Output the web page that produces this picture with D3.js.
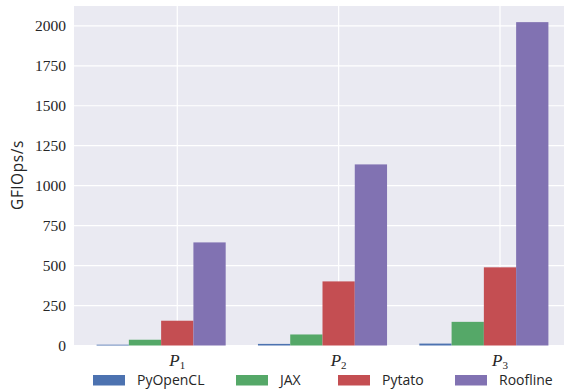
<!DOCTYPE html>
<html><head><meta charset="utf-8">
<script src="https://cdn.jsdelivr.net/npm/d3@7"></script>
<style>body{margin:0;background:#fff}</style>
</head><body>
<svg id="c" width="564" height="389"></svg>
<script>
const categories = ["1", "2", "3"];
const seriesNames = ["PyOpenCL", "JAX", "Pytato", "Roofline"];
const pyopencl = [5, 10, 12];
const jax = [36, 69, 148];
const pytato = [155, 401, 489];
const roofline = [645, 1133, 2023];
const yTicks = [0, 250, 500, 750, 1000, 1250, 1500, 1750, 2000];
const colors = ["#4C72B0", "#55A868", "#C44E52", "#8172B2"];
const series = [pyopencl, jax, pytato, roofline];

const svg = d3.select("#c");
const L = 74, T = 6, R = 571, B = 345.5;
const x = d3.scaleLinear().domain([-0.64, 2.44]).range([L, R]);
const y = d3.scaleLinear().domain([0, 2124]).range([B, T]);
const w = 0.2;

svg.append("rect").attr("x", L).attr("y", T).attr("width", R - L).attr("height", B - T).attr("fill", "#EAEAF2");
const g = svg.append("g");
g.selectAll(".hg").data(yTicks).join("line")
  .attr("x1", L).attr("x2", R).attr("y1", d => y(d)).attr("y2", d => y(d))
  .attr("stroke", "#fff").attr("stroke-width", 1.2);
g.selectAll(".vg").data(categories).join("line")
  .attr("y1", T).attr("y2", B).attr("x1", (d, i) => x(i)).attr("x2", (d, i) => x(i))
  .attr("stroke", "#fff").attr("stroke-width", 1.2);

series.forEach((vals, s) => {
  g.selectAll(".b" + s).data(vals).join("rect")
    .attr("x", (d, i) => x(i + (s - 2.5) * w))
    .attr("width", x(w) - x(0))
    .attr("y", d => y(d))
    .attr("height", d => B - y(d))
    .attr("fill", colors[s]);
});

// y axis
const yl = svg.append("g");
yl.selectAll("text").data(yTicks).join("text")
  .attr("x", L - 8).attr("y", d => y(d)).attr("dy", "0.35em")
  .attr("text-anchor", "end")
  .attr("font-family", "Liberation Serif, serif").attr("font-size", 15.5).attr("fill", "#262626")
  .text(d => d);
svg.append("text").attr("transform", "translate(22.5," + 175 + ") rotate(-90)")
  .attr("text-anchor", "middle").attr("font-family", "Open Sans, sans-serif").attr("font-size", 15.5)
  .attr("letter-spacing", 0.6)
  .attr("fill", "#262626").text("GFlOps/s");

// x labels
const xl = svg.append("g");
categories.forEach((c, i) => {
  const t = xl.append("text").attr("x", x(i)).attr("y", 366).attr("text-anchor", "middle")
    .attr("font-family", "Liberation Serif, serif").attr("fill", "#262626");
  t.append("tspan").attr("font-style", "italic").attr("font-size", 17).text("P");
  t.append("tspan").attr("font-size", 11).attr("dy", 2.5).text(c);
});

// legend
const legX = [93, 236, 338, 455];
seriesNames.forEach((n, i) => {
  svg.append("rect").attr("x", legX[i]).attr("y", 375).attr("width", 32).attr("height", 10.5).attr("fill", colors[i]);
  svg.append("text").attr("x", legX[i] + 44).attr("y", 384.5).attr("font-family", "Open Sans, sans-serif")
    .attr("font-size", 14).attr("fill", "#262626").text(n);
});
</script>
</body></html>
